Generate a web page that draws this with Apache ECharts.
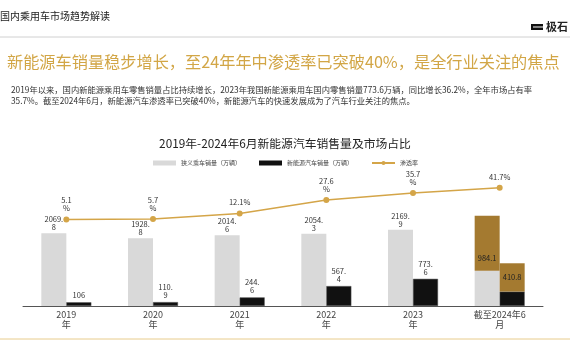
<!DOCTYPE html>
<html>
<head>
<meta charset="utf-8">
<script src="https://cdn.jsdelivr.net/npm/echarts@6/dist/echarts.min.js"></script>
<style>
html,body{margin:0;padding:0;background:#fff;}
#chart{width:570px;height:360px;}
</style>
</head>
<body>
<div id="chart"></div>
<script>
var categories = ['2019\n年', '2020\n年', '2021\n年', '2022\n年', '2023\n年', '截至2024年6\n月'];
var fuelSales = [2069.8, 1928.8, 2014.6, 2054.3, 2169.9, 1005];
var fuelLabels = ['2069.\n8', '1928.\n8', '2014.\n6', '2054.\n3', '2169.\n9', ''];
var fuelHighlight = ['-', '-', '-', '-', '-', 1566];
var fuelHighlightLabel = '984.1';
var nevSales = [106, 110.9, 244.6, 567.4, 773.6, 410.8];
var nevLabels = ['106', '110.\n9', '244.\n6', '567.\n4', '773.\n6', ''];
var nevHighlight = ['-', '-', '-', '-', '-', 806];
var nevHighlightLabel = '410.8';
var penetration = [5.1, 5.7, 12.1, 27.6, 35.7, 41.7];
var penetrationLabels = ['5.1\n%', '5.7\n%', '12.1%', '27.6\n%', '35.7\n%', '41.7%'];

var FONT = '"Noto Sans CJK SC", "Noto Sans", sans-serif';
var chart = echarts.init(document.getElementById('chart'));
var option = {
  backgroundColor: '#ffffff',
  textStyle: { fontFamily: FONT },
  title: {
    text: '2019年-2024年6月新能源汽车销售量及市场占比',
    left: 'center',
    top: 133,
    textStyle: { fontSize: 11.8, fontWeight: 'normal', color: '#222', fontFamily: FONT }
  },
  legend: {
    data: [
      { name: '狭义乘车销量（万辆）', icon: 'rect' },
      { name: '新能源汽车销量（万辆）', icon: 'rect', itemStyle: { borderWidth: 0 } },
      { name: '渗透率' }
    ],
    left: 148,
    top: 155,
    itemWidth: 23,
    itemHeight: 5,
    itemGap: 18,
    textStyle: { fontSize: 6, color: '#444', fontFamily: FONT }
  },
  grid: { left: 23, right: 27, top: 176, bottom: 54 },
  xAxis: {
    type: 'category',
    data: categories,
    axisLine: { lineStyle: { color: '#555', width: 1 } },
    axisTick: { show: false },
    axisLabel: { color: '#444', fontSize: 9, lineHeight: 10, margin: 4, interval: 0, fontFamily: FONT }
  },
  yAxis: [
    { type: 'value', min: 0, max: 3702, show: false, splitLine: { show: false } },
    { type: 'value', min: -94.3, max: 55.1, show: false, splitLine: { show: false } }
  ],
  graphic: [
    { type: 'text', left: 0, top: 11, style: { text: '国内乘用车市场趋势解读', fontSize: 10, fill: '#222', fontFamily: FONT } },
    { type: 'rect', shape: { x: 531, y: 24, width: 12, height: 6 }, style: { fill: '#111' } },
    { type: 'rect', shape: { x: 533, y: 26.5, width: 10, height: 1 }, style: { fill: '#fff' } },
    { type: 'text', left: 546, top: 21, style: { text: '极石', fontSize: 11, fontWeight: 'bold', fill: '#222', fontFamily: FONT } },
    { type: 'line', shape: { x1: 0, y1: 37, x2: 570, y2: 37 }, style: { stroke: '#d0d0d0', lineWidth: 1 } },
    { type: 'text', left: 7, top: 54, style: { text: '新能源车销量稳步增长，至24年年中渗透率已突破40%，是全行业关注的焦点', fontSize: 16.2, fill: '#D2A646', fontFamily: FONT } },
    { type: 'text', left: 11, top: 84, style: { text: '2019年以来，国内新能源乘用车零售销量占比持续增长，2023年我国新能源乘用车国内零售销量773.6万辆，同比增长36.2%，全年市场占有率\n35.7%。截至2024年6月，新能源汽车渗透率已突破40%，新能源汽车的快速发展成为了汽车行业关注的焦点。', fontSize: 8.3, lineHeight: 11.5, fill: '#333', fontFamily: FONT } },
    { type: 'line', shape: { x1: 0, y1: 339, x2: 570, y2: 339 }, style: { stroke: '#E8CC8C', lineWidth: 1 } }
  ],
  series: [
    {
      name: '狭义乘车销量（万辆）', type: 'bar', stack: 'fuel', data: fuelSales,
      barWidth: 25, barGap: '0%',
      itemStyle: { color: '#D9D9D9' },
      label: { show: true, position: 'top', distance: 2, fontSize: 7.5, lineHeight: 8, color: '#333',
        formatter: function (p) { return fuelLabels[p.dataIndex]; } }
    },
    {
      name: 'fuelHighlight', type: 'bar', stack: 'fuel', data: fuelHighlight,
      barWidth: 25, barGap: '0%',
      itemStyle: { color: '#A47A30' },
      label: { show: true, position: 'insideBottom', distance: 9, fontSize: 7.5, color: '#222',
        formatter: function () { return fuelHighlightLabel; } }
    },
    {
      name: '新能源汽车销量（万辆）', type: 'bar', stack: 'nev', data: nevSales,
      barWidth: 25, barGap: '0%',
      itemStyle: { color: '#111111', borderColor: '#555', borderWidth: 0.5 },
      label: { show: true, position: 'top', distance: 3, fontSize: 7.5, lineHeight: 8, color: '#333',
        formatter: function (p) { return nevLabels[p.dataIndex]; } }
    },
    {
      name: 'nevHighlight', type: 'bar', stack: 'nev', data: nevHighlight,
      barWidth: 25, barGap: '0%',
      itemStyle: { color: '#A47A30' },
      label: { show: true, position: 'inside', fontSize: 7.5, color: '#222',
        formatter: function () { return nevHighlightLabel; } }
    },
    {
      name: '渗透率', type: 'line', yAxisIndex: 1, data: penetration,
      symbol: 'circle', symbolSize: 6,
      lineStyle: { color: '#D4A548', width: 1.5 },
      itemStyle: { color: '#D4A548' },
      label: { show: true, position: 'top', distance: 4, fontSize: 7.5, lineHeight: 8, color: '#333',
        formatter: function (p) { return penetrationLabels[p.dataIndex]; } }
    }
  ]
};
chart.setOption(option);
</script>
</body>
</html>
